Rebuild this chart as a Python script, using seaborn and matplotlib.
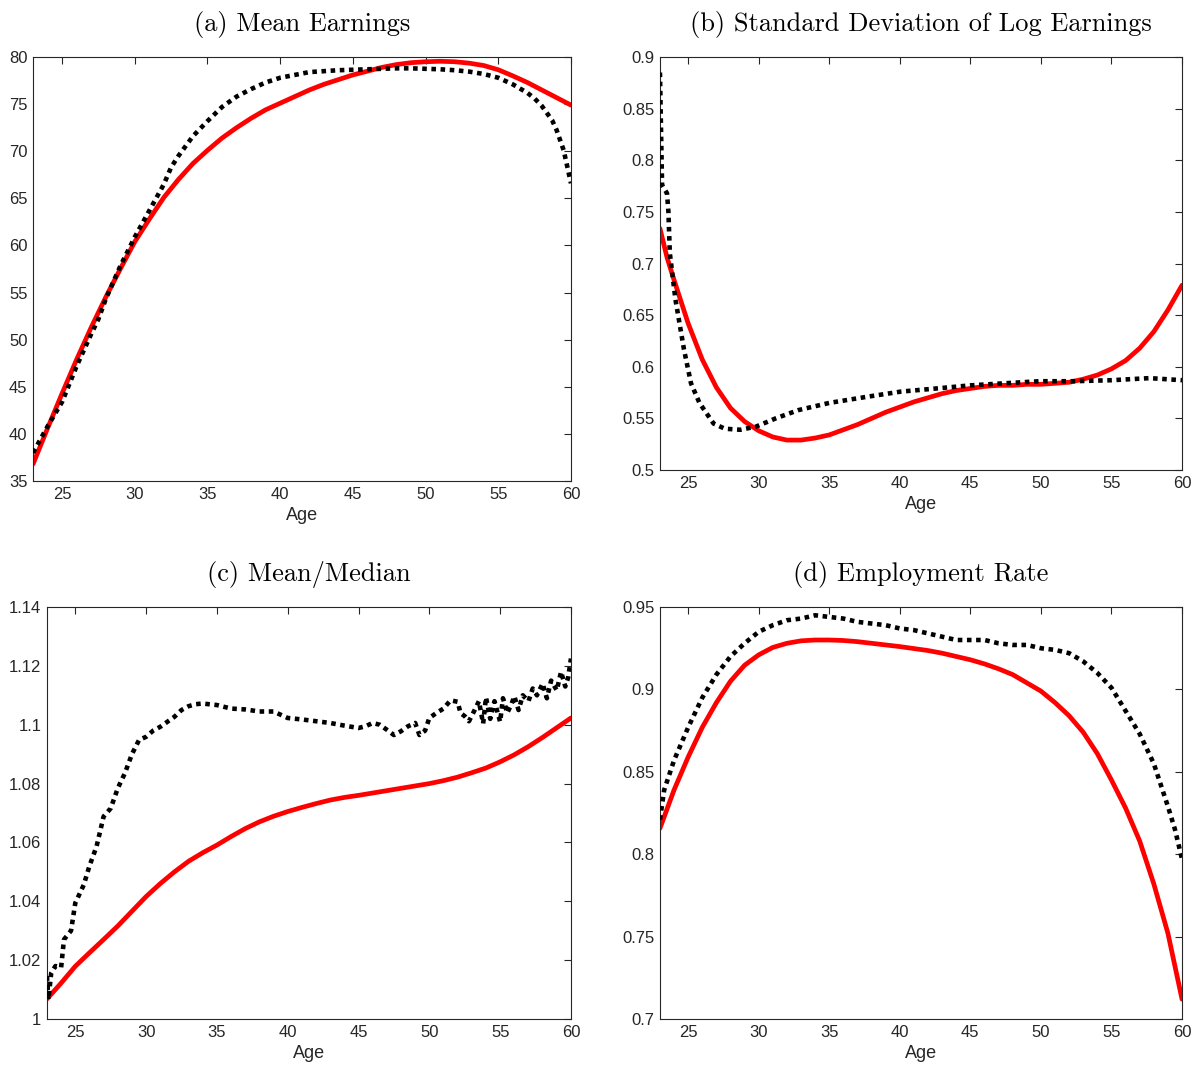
import matplotlib
matplotlib.use("Agg")
import matplotlib.pyplot as plt
import matplotlib.ticker as mticker
import seaborn as sns
import pandas as pd

# ---------------- data ----------------
# (a) Mean Earnings
a_data_age = [23, 24, 25, 26, 27, 27.5, 28, 29, 30, 31, 32, 32.5, 33, 34, 35, 36, 37, 38, 39, 40,
              41, 42, 43, 44, 45, 46, 47, 48, 49, 50, 51, 52, 53, 54, 55, 56, 57, 57.5, 58, 58.7,
              59, 59.5, 60]
a_data_val = [38.0, 40.8, 43.4, 47.2, 50.6, 52.2, 54.3, 57.8, 60.9, 63.7, 66.5, 68.3, 69.5, 71.6,
              73.2, 74.7, 75.8, 76.6, 77.3, 77.8, 78.1, 78.4, 78.5, 78.6, 78.65, 78.7, 78.75,
              78.8, 78.8, 78.75, 78.7, 78.6, 78.45, 78.2, 77.8, 77.1, 76.2, 75.6, 74.8, 73.3,
              72.3, 70.1, 66.6]
a_model_age = list(range(23, 61))
a_model_val = [36.8, 40.6, 44.3, 47.9, 51.3, 54.5, 57.5, 60.4, 62.8, 65.1, 67.0, 68.7, 70.1, 71.4,
               72.5, 73.5, 74.4, 75.1, 75.8, 76.5, 77.1, 77.6, 78.1, 78.5, 78.9, 79.2, 79.4, 79.5,
               79.55, 79.5, 79.35, 79.1, 78.65, 78.0, 77.3, 76.5, 75.7, 74.9]

# (b) Standard Deviation of Log Earnings
b_data_age = [23.0, 23.15, 23.5, 23.6, 23.7, 24.1, 24.7, 25.2, 25.8, 26.8, 27.6, 28.7, 29.8, 31.2,
              32.8, 35, 37.7, 40.1, 42.6, 45, 47.4, 49.9, 52.3, 55, 57.7, 60]
b_data_val = [0.885, 0.776, 0.768, 0.75, 0.71, 0.665, 0.617, 0.584, 0.565, 0.545, 0.540, 0.539,
              0.542, 0.550, 0.558, 0.565, 0.571, 0.576, 0.579, 0.582, 0.584, 0.586, 0.586, 0.587,
              0.589, 0.587]
b_model_age = [23, 23.5] + list(range(24, 61))
b_model_val = [0.734, 0.706, 0.684, 0.642, 0.607, 0.580, 0.560, 0.547, 0.538, 0.532, 0.529, 0.529,
               0.531, 0.534, 0.539, 0.544, 0.550, 0.556, 0.561, 0.566, 0.570, 0.574, 0.577, 0.579,
               0.581, 0.582, 0.582, 0.583, 0.583, 0.584, 0.585, 0.588, 0.592, 0.598, 0.606, 0.618,
               0.634, 0.655, 0.679]

# (c) Mean/Median
c_data_age = [23.0, 23.1, 23.3, 23.6, 24.0, 24.2, 24.7, 25.0, 25.6, 26.0, 26.5, 27.0, 27.5, 28.0,
              28.5, 29.0, 29.5, 30.0, 30.5, 31.0, 31.5, 32.0, 32.5, 33.0, 33.5, 34.0, 35.0, 36.0,
              37.0, 38.0, 39.0, 40.0, 41.0, 42.0, 43.0, 44.0, 45.0, 45.5, 46.0, 46.5, 47.0, 47.5,
              48.0, 48.5, 49.0, 49.3, 49.7, 50.0, 50.5, 51.0, 51.5, 52.0, 52.2, 52.5, 52.8, 53.2,
              53.5, 53.8, 54.0, 54.3, 54.6, 55.0, 55.2, 55.5, 55.8, 56.0, 56.3, 56.6, 57.0, 57.3,
              57.6, 58.0, 58.3, 58.6, 59.0, 59.3, 59.6, 59.8, 60.0]
c_data_val = [1.0145, 1.0066, 1.0156, 1.0180, 1.0175, 1.0270, 1.0300, 1.0394, 1.0456, 1.0520,
              1.0586, 1.0688, 1.0716, 1.0784, 1.0835, 1.0900, 1.0948, 1.0959, 1.0980, 1.0993,
              1.1010, 1.1027, 1.1050, 1.1063, 1.1070, 1.1072, 1.1067, 1.1055, 1.1052, 1.1045,
              1.1045, 1.1023, 1.1018, 1.1012, 1.1006, 1.0997, 1.0989, 1.0995, 1.1006, 1.1000,
              1.0983, 1.0965, 1.0978, 1.0995, 1.1006, 1.0965, 1.0980, 1.1023, 1.1040, 1.1055,
              1.1083, 1.1078, 1.1040, 1.1029, 1.1012, 1.1050, 1.1080, 1.1004, 1.1093, 1.1020,
              1.1080, 1.1010, 1.1090, 1.1040, 1.1070, 1.1097, 1.1050, 1.1100, 1.1080, 1.1123,
              1.1100, 1.1140, 1.1090, 1.1150, 1.1117, 1.1180, 1.1130, 1.1160, 1.1225]
c_model_age = list(range(23, 61))
c_model_val = [1.0068, 1.0122, 1.0179, 1.0225, 1.0270, 1.0316, 1.0366, 1.0416, 1.0460, 1.0500,
               1.0536, 1.0565, 1.0591, 1.0620, 1.0647, 1.0670, 1.0689, 1.0705, 1.0719, 1.0732,
               1.0744, 1.0753, 1.0760, 1.0768, 1.0776, 1.0784, 1.0792, 1.0800, 1.0810, 1.0822,
               1.0837, 1.0853, 1.0874, 1.0898, 1.0926, 1.0957, 1.0990, 1.1023]

# (d) Employment Rate
d_data_age = [23, 23.3, 24, 25, 26, 27, 28, 29, 30, 31, 32, 33, 34, 35, 36, 37, 38, 39, 40, 41,
              42, 43, 44, 45, 46, 47, 48, 49, 50, 51, 52, 53, 54, 55, 56, 57, 58, 59, 59.5, 60]
d_data_val = [0.821, 0.839, 0.857, 0.877, 0.895, 0.909, 0.920, 0.928, 0.935, 0.939, 0.942, 0.943,
              0.945, 0.944, 0.943, 0.941, 0.940, 0.939, 0.937, 0.936, 0.934, 0.932, 0.930, 0.930,
              0.930, 0.928, 0.927, 0.927, 0.925, 0.924, 0.922, 0.917, 0.910, 0.901, 0.887, 0.873,
              0.855, 0.829, 0.815, 0.797]
d_model_age = list(range(23, 61))
d_model_val = [0.8157, 0.839, 0.859, 0.877, 0.892, 0.905, 0.9147, 0.921, 0.9255, 0.928, 0.9295,
               0.930, 0.930, 0.9297, 0.929, 0.928, 0.927, 0.926, 0.9248, 0.9236, 0.922, 0.920,
               0.918, 0.9155, 0.9125, 0.909, 0.904, 0.899, 0.892, 0.884, 0.874, 0.861, 0.845,
               0.828, 0.808, 0.782, 0.752, 0.712]

titles = ["(a) Mean Earnings", "(b) Standard Deviation of Log Earnings",
          "(c) Mean/Median", "(d) Employment Rate"]
ylims = [(35, 80), (0.5, 0.9), (1.0, 1.14), (0.7, 0.95)]
ysteps = [5, 0.05, 0.02, 0.05]

# ---------------- style ----------------
sns.set_theme(style="white")
plt.rcParams["font.family"] = ["Liberation Sans", "DejaVu Sans"]

fig = plt.figure(figsize=(12.01, 10.68), dpi=100)
positions = [
    [0.0275, 0.5496, 0.4479, 0.3970],
    [0.5495, 0.5599, 0.4347, 0.3867],
    [0.0391, 0.0459, 0.4363, 0.3857],
    [0.5495, 0.0459, 0.4347, 0.3857],
]
series = [
    (a_data_age, a_data_val, a_model_age, a_model_val),
    (b_data_age, b_data_val, b_model_age, b_model_val),
    (c_data_age, c_data_val, c_model_age, c_model_val),
    (d_data_age, d_data_val, d_model_age, d_model_val),
]

fmt = mticker.FuncFormatter(lambda v, p: "%g" % round(v, 4))
txt_color = "#262626"

for i in range(4):
    ax = fig.add_axes(positions[i])
    dx, dy, mx, my = series[i]
    df_d = pd.DataFrame({"Age": dx, "value": dy})
    df_m = pd.DataFrame({"Age": mx, "value": my})
    sns.lineplot(data=df_d, x="Age", y="value", ax=ax, color="black", linewidth=3.3,
                 estimator=None, sort=False)
    sns.lineplot(data=df_m, x="Age", y="value", ax=ax, color="#ff0000", linewidth=3.4,
                 estimator=None, sort=False)
    ax.lines[0].set_linestyle((0, (1.0, 1.0)))
    ax.lines[0].set_dash_capstyle("butt")
    ax.lines[0].set_zorder(3)
    ax.lines[1].set_zorder(2)
    ax.lines[1].set_solid_joinstyle("round")

    ax.set_xlim(23, 60)
    ax.set_xticks(list(range(25, 61, 5)))
    lo, hi = ylims[i]
    ax.set_ylim(lo, hi)
    ax.yaxis.set_major_locator(mticker.MultipleLocator(ysteps[i]))
    ax.yaxis.set_major_formatter(fmt)
    ax.xaxis.set_major_formatter(fmt)
    ax.set_ylabel("")
    ax.set_xlabel("Age", fontsize=13, color=txt_color, labelpad=4)
    ax.set_title(titles[i], fontfamily="cmr10", fontsize=19, pad=19, color="black")
    ax.tick_params(direction="in", top=True, right=True, length=5, width=0.8,
                   labelsize=12, colors=txt_color, pad=4)
    for s in ax.spines.values():
        s.set_visible(True)
        s.set_color(txt_color)
        s.set_linewidth(0.8)

fig.savefig("out.png", dpi=100, facecolor="white")
